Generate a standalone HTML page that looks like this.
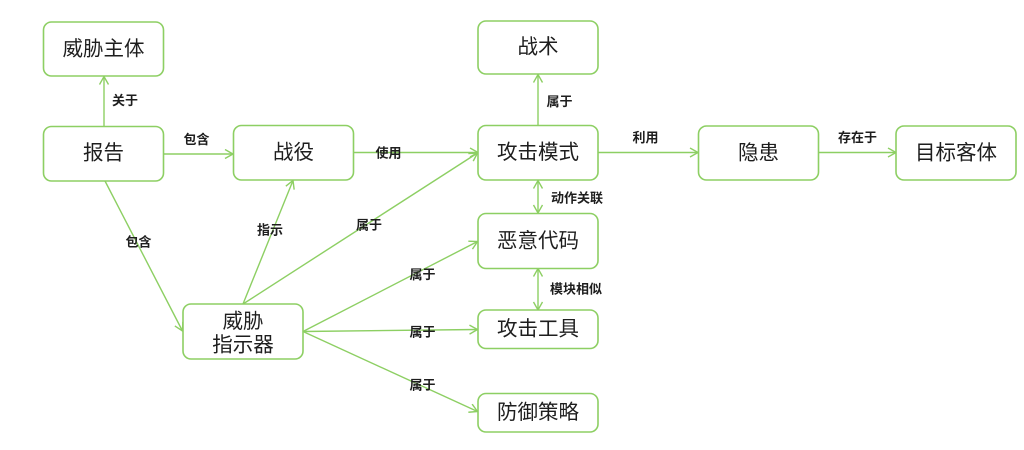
<!DOCTYPE html>
<html><head><meta charset="utf-8">
<style>
html,body{margin:0;padding:0;background:#fff;}
svg{display:block;}
.n{fill:#fff;stroke:#8dcf63;stroke-width:1.6;}
.l{stroke:#8dcf63;stroke-width:1.4;fill:none;}
.t{font-family:"Liberation Sans","Noto Sans CJK SC",sans-serif;font-size:20.5px;fill:#1e1e1e;text-anchor:middle;dominant-baseline:central;}
.s{font-family:"Liberation Sans","Noto Sans CJK SC",sans-serif;font-size:13px;font-weight:bold;fill:#1e1e1e;text-anchor:middle;dominant-baseline:central;}
</style></head>
<body>
<svg width="1024" height="450" viewBox="0 0 1024 450" xmlns="http://www.w3.org/2000/svg">
<defs>
<marker id="a" markerUnits="userSpaceOnUse" markerWidth="12" markerHeight="12" refX="9" refY="5" orient="auto-start-reverse">
<path d="M1,0.5 L9,5 L1,9.5" fill="none" stroke="#8dcf63" stroke-width="1.4"/>
</marker>
</defs>

<!-- connectors -->
<line class="l" x1="104" y1="127" x2="104" y2="76.5" marker-end="url(#a)"/>
<line class="l" x1="163" y1="154" x2="233" y2="154" marker-end="url(#a)"/>
<line class="l" x1="353" y1="152.5" x2="478" y2="152.5" marker-end="url(#a)"/>
<line class="l" x1="598" y1="152.5" x2="698" y2="152.5" marker-end="url(#a)"/>
<line class="l" x1="818" y1="152.5" x2="896" y2="152.5" marker-end="url(#a)"/>
<line class="l" x1="538" y1="125.5" x2="538" y2="74.5" marker-end="url(#a)"/>
<line class="l" x1="538" y1="180.5" x2="538" y2="213" marker-start="url(#a)" marker-end="url(#a)"/>
<line class="l" x1="538" y1="268.5" x2="538" y2="310" marker-start="url(#a)" marker-end="url(#a)"/>
<line class="l" x1="105" y1="181" x2="182.5" y2="331" marker-end="url(#a)"/>
<line class="l" x1="243" y1="304" x2="293" y2="180.5" marker-end="url(#a)"/>
<line class="l" x1="243" y1="304" x2="477.5" y2="153" marker-end="url(#a)"/>
<line class="l" x1="303" y1="331.5" x2="477.5" y2="241.5" marker-end="url(#a)"/>
<line class="l" x1="303" y1="331.5" x2="477.5" y2="329.5" marker-end="url(#a)"/>
<line class="l" x1="303" y1="331.5" x2="477.5" y2="411.5" marker-end="url(#a)"/>

<!-- nodes -->
<rect class="n" x="43.5" y="22" width="120" height="54" rx="8"/>
<rect class="n" x="43.5" y="126.5" width="120" height="54.5" rx="8"/>
<rect class="n" x="233.5" y="125.5" width="120" height="54.5" rx="8"/>
<rect class="n" x="478" y="21" width="120" height="53" rx="8"/>
<rect class="n" x="478" y="125.5" width="120" height="54.5" rx="8"/>
<rect class="n" x="698.5" y="126" width="120" height="54" rx="8"/>
<rect class="n" x="896" y="126" width="120" height="54" rx="8"/>
<rect class="n" x="478" y="213.5" width="120" height="55" rx="8"/>
<rect class="n" x="478" y="310" width="120" height="38.5" rx="8"/>
<rect class="n" x="478" y="393.5" width="120" height="38.5" rx="8"/>
<rect class="n" x="183" y="304" width="120" height="55" rx="8"/>

<!-- node text -->
<text class="t" x="103.5" y="49">威胁主体</text>
<text class="t" x="103.5" y="153">报告</text>
<text class="t" x="293.5" y="152.5">战役</text>
<text class="t" x="538" y="47">战术</text>
<text class="t" x="538" y="152.5">攻击模式</text>
<text class="t" x="758.5" y="153">隐患</text>
<text class="t" x="956" y="153">目标客体</text>
<text class="t" x="538" y="241">恶意代码</text>
<text class="t" x="538" y="329">攻击工具</text>
<text class="t" x="538" y="412.5">防御策略</text>
<text class="t" x="243" y="321.5">威胁</text>
<text class="t" x="243" y="345">指示器</text>

<!-- labels -->
<text class="s" x="125" y="100.5">关于</text>
<text class="s" x="196.5" y="139.5">包含</text>
<text class="s" x="388.5" y="153">使用</text>
<text class="s" x="645.5" y="137.5">利用</text>
<text class="s" x="857.5" y="137.5">存在于</text>
<text class="s" x="559.5" y="101.5">属于</text>
<text class="s" x="577" y="198">动作关联</text>
<text class="s" x="576" y="289">模块相似</text>
<text class="s" x="138.5" y="242">包含</text>
<text class="s" x="270" y="230">指示</text>
<text class="s" x="369" y="225">属于</text>
<text class="s" x="422.5" y="274.5">属于</text>
<text class="s" x="422.5" y="332">属于</text>
<text class="s" x="422.5" y="385">属于</text>
</svg>
</body></html>
